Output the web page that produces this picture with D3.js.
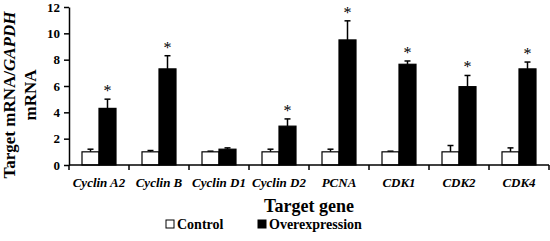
<!DOCTYPE html>
<html><head><script src="https://cdn.jsdelivr.net/npm/d3@7"></script></head>
<body style="margin:0">
<script>
const genes = ['Cyclin A2', 'Cyclin B', 'Cyclin D1', 'Cyclin D2', 'PCNA', 'CDK1', 'CDK2', 'CDK4'];
const groups = ['Control', 'Overexpression'];
const controlVals = [1.0, 1.0, 1.0, 1.0, 1.0, 1.0, 1.0, 1.0];
const controlErr = [0.2, 0.1, 0.05, 0.2, 0.2, 0.05, 0.48, 0.3];
const overVals = [4.3, 7.3, 1.2, 2.95, 9.5, 7.65, 5.95, 7.3];
const overErr = [0.7, 1.0, 0.1, 0.55, 1.45, 0.25, 0.85, 0.52];
const signif = [true, true, false, true, true, true, true, true];
const yTicks = [0, 2, 4, 6, 8, 10, 12];

const FONT = 'Liberation Serif';

let margin = {top: 7, right: 1, bottom: 76, left: 69},
    width = 550 - margin.left - margin.right,
    height = 241 - margin.top - margin.bottom;

let svg = d3.select('body').append('svg')
    .attr('width', 550)
    .attr('height', 241)
    .attr('font-family', FONT);

let g = svg.append('g')
    .attr('transform', `translate(${margin.left},${margin.top})`);

let x0 = d3.scaleBand().domain(genes).range([0, width]).paddingInner(0).paddingOuter(0);
let x1 = d3.scaleBand().domain(groups).range([13, x0.bandwidth() - 13]).padding(0);
let y = d3.scaleLinear().domain([0, 12]).range([height, 0]);

function label(sel, size) {
    return sel.attr('font-family', FONT)
        .attr('font-weight', 'bold')
        .attr('font-size', size)
        .attr('fill', '#000');
}

let rows = genes.map((gn, i) => ({
    gene: gn,
    bars: [
        {group: 'Control', v: controlVals[i], e: controlErr[i], sig: false},
        {group: 'Overexpression', v: overVals[i], e: overErr[i], sig: signif[i]}
    ]
}));

let color = {Control: '#fff', Overexpression: '#000'};

let cat = g.selectAll('.cat').data(rows).enter().append('g')
    .attr('transform', d => `translate(${x0(d.gene)},0)`);

let bar = cat.selectAll('.bar').data(d => d.bars).enter().append('g');

// error bars (upper only)
bar.append('line')
    .attr('x1', d => x1(d.group) + x1.bandwidth() / 2)
    .attr('x2', d => x1(d.group) + x1.bandwidth() / 2)
    .attr('y1', d => y(d.v))
    .attr('y2', d => y(d.v + d.e))
    .attr('stroke', '#000').attr('stroke-width', 1.5);
bar.append('line')
    .attr('x1', d => x1(d.group) + x1.bandwidth() / 2 - 3)
    .attr('x2', d => x1(d.group) + x1.bandwidth() / 2 + 3)
    .attr('y1', d => y(d.v + d.e))
    .attr('y2', d => y(d.v + d.e))
    .attr('stroke', '#000').attr('stroke-width', 1.5);

bar.append('rect')
    .attr('x', d => x1(d.group))
    .attr('y', d => y(d.v))
    .attr('width', x1.bandwidth())
    .attr('height', d => y(0) - y(d.v))
    .attr('fill', d => color[d.group])
    .attr('stroke', '#000').attr('stroke-width', 1.2);

label(bar.filter(d => d.sig).append('text'), 16)
    .attr('x', d => x1(d.group) + x1.bandwidth() / 2)
    .attr('y', d => y(d.v + d.e) - 3)
    .attr('text-anchor', 'middle')
    .attr('font-weight', 'normal')
    .text('*');

// y axis
let yAxis = g.append('g')
    .call(d3.axisLeft(y).tickValues(yTicks).tickSize(5).tickSizeOuter(0))
    .attr('font-family', FONT);
yAxis.select('.domain').attr('stroke-width', 1.5);
yAxis.selectAll('.tick line').attr('stroke-width', 1.5);
label(yAxis.selectAll('.tick text'), 13)
    .attr('x', -9);

// x axis: line with ticks at category boundaries
let xg = g.append('g').attr('transform', `translate(0,${height})`);
xg.append('line')
    .attr('x1', 0).attr('x2', width)
    .attr('stroke', '#000').attr('stroke-width', 1.5);
let bounds = genes.map(gn => x0(gn)).concat([width]);
xg.selectAll('.xt').data(bounds).enter().append('line')
    .attr('x1', d => d).attr('x2', d => d)
    .attr('y1', 0).attr('y2', 5)
    .attr('stroke', '#000').attr('stroke-width', 1.5);
label(xg.selectAll('.xl').data(genes).enter().append('text'), 13)
    .attr('x', d => x0(d) + x0.bandwidth() / 2)
    .attr('y', 22)
    .attr('text-anchor', 'middle')
    .attr('font-style', 'italic')
    .text(d => d);

// axis titles
label(svg.append('text'), 18)
    .attr('x', margin.left + width / 2)
    .attr('y', 212)
    .attr('text-anchor', 'middle')
    .text('Target gene');

let yt = label(svg.append('text'), 17)
    .attr('transform', 'translate(15,95) rotate(-90)')
    .attr('text-anchor', 'middle');
yt.append('tspan').text('Target mRNA/');
yt.append('tspan').attr('font-style', 'italic').text('GAPDH');
label(svg.append('text'), 17)
    .attr('transform', 'translate(36,95) rotate(-90)')
    .attr('text-anchor', 'middle')
    .text('mRNA');

// legend
let legendX = [166, 258];
let leg = svg.selectAll('.leg').data(groups).enter().append('g')
    .attr('transform', (d, i) => `translate(${legendX[i]},220)`);
leg.append('rect')
    .attr('width', 8).attr('height', 8)
    .attr('fill', d => color[d])
    .attr('stroke', '#000').attr('stroke-width', 1);
label(leg.append('text'), 14)
    .attr('x', 11).attr('y', 9)
    .text(d => d);
</script></body></html>
